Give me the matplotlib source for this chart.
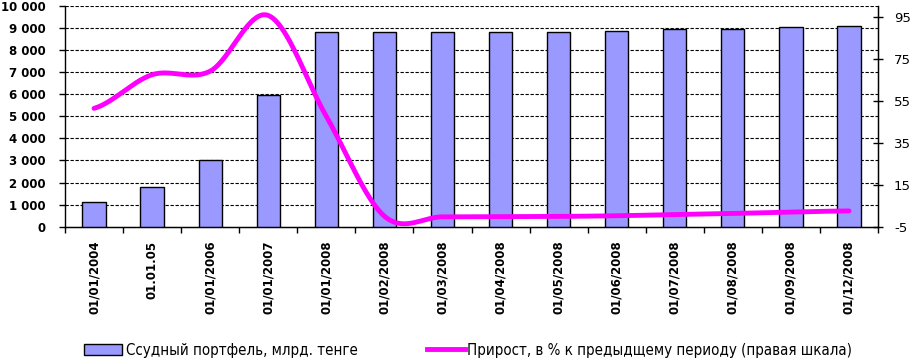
import numpy as np
import matplotlib
matplotlib.use("Agg")
import matplotlib.pyplot as plt
from matplotlib.patches import Patch
from matplotlib.lines import Line2D
from matplotlib import font_manager

plt.rcParams["axes.unicode_minus"] = False

# данные
dates = ["01/01/2004", "01.01.05", "01/01/2006", "01/01/2007", "01/01/2008",
         "01/02/2008", "01/03/2008", "01/04/2008", "01/05/2008", "01/06/2008",
         "01/07/2008", "01/08/2008", "01/09/2008", "01/12/2008"]
portfel = [1100, 1800, 3030, 5990, 8840, 8840, 8840, 8840, 8840, 8850,
           8940, 8940, 9040, 9080]
prirost = [51.3, 67.3, 69.0, 95.5, 47.5, 0.0, -0.3, -0.2, -0.1, 0.2,
           0.8, 1.3, 2.0, 2.5]

lbl_bar = "Ссудный портфель, млрд. тенге"
lbl_line = "Прирост, в % к предыдщему периоду (правая шкала)"


def sglazhivanie(y, n=40):
    # сглаживание как в Excel (Catmull-Rom)
    y = np.asarray(y, dtype=float)
    p = np.concatenate([[y[0]], y, [y[-1]]])
    xs, ys = [], []
    for i in range(len(y) - 1):
        p0, p1, p2, p3 = p[i], p[i + 1], p[i + 2], p[i + 3]
        t = np.linspace(0, 1, n, endpoint=(i == len(y) - 2))
        m1 = (p2 - p0) / 2
        m2 = (p3 - p1) / 2
        h00 = 2 * t**3 - 3 * t**2 + 1
        h10 = t**3 - 2 * t**2 + t
        h01 = -2 * t**3 + 3 * t**2
        h11 = t**3 - t**2
        ys.append(h00 * p1 + h10 * m1 + h01 * p2 + h11 * m2)
        xs.append(i + t)
    return np.concatenate(xs), np.concatenate(ys)


# узкий шрифт для легенды, если есть
names = {f.name for f in font_manager.fontManager.ttflist}
if "Liberation Sans Narrow" in names:
    leg_font = {"family": "Liberation Sans Narrow", "size": 10.5}
elif "DejaVu Sans Condensed" in names:
    leg_font = {"family": "DejaVu Sans Condensed", "size": 11.6}
else:
    leg_font = {"family": "DejaVu Sans", "stretch": "condensed", "size": 10.8}

fig = plt.figure(figsize=(9.15, 3.6), dpi=100)
ax = fig.add_axes([65 / 915, 1 - 226.7 / 360, (878 - 65) / 915, (226.7 - 6) / 360])
ax2 = ax.twinx()

x = np.arange(len(dates))
ax.bar(x, portfel, width=0.4, color="#9999FF", edgecolor="black", linewidth=1.0, zorder=3)
ax.set_xlim(-0.5, len(dates) - 0.5)
ax.set_ylim(0, 10000)
ax.set_yticks(np.arange(0, 10001, 1000))
ax.set_yticklabels([f"{v:,}".replace(",", " ") for v in range(0, 10001, 1000)],
                   fontsize=8.5, fontweight="bold")
for v in range(1000, 10001, 1000):
    ax.axhline(v, color="black", linestyle=(0, (3, 1.5)), linewidth=0.8, zorder=1)

ax.set_xticks(x)
ax.set_xticklabels(dates, rotation=90, fontsize=8.5, fontweight="bold")
ax.set_xticks(np.arange(-0.5, len(dates), 1), minor=True)
ax.tick_params(axis="x", which="major", length=0, pad=10)
ax.tick_params(axis="x", which="minor", length=4.5, width=1, direction="out")
ax.tick_params(axis="y", length=4, width=1, direction="out", pad=10)
ax.spines["top"].set_visible(False)
for s in ["left", "bottom"]:
    ax.spines[s].set_linewidth(1.0)

xs, ys = sglazhivanie(prirost)
ax2.plot(xs, ys, color="#FF00FF", linewidth=3.5, solid_capstyle="round", zorder=4)
ax2.set_ylim(-5, 100)
ax2.set_yticks([-5, 15, 35, 55, 75, 95])
ax2.tick_params(axis="y", length=7, width=1, direction="inout", pad=8, labelsize=9.5)
ax2.spines["top"].set_visible(False)
ax2.spines["right"].set_linewidth(1.0)
ax2.spines["left"].set_visible(False)

h1 = Patch(facecolor="#9999FF", edgecolor="black", linewidth=1.0, label=lbl_bar)
h2 = Line2D([], [], color="#FF00FF", linewidth=3.5, label=lbl_line)
fig.legend(handles=[h1], loc="center left", bbox_to_anchor=(84 / 915, 1 - 350 / 360),
           frameon=False, borderpad=0, borderaxespad=0, handlelength=2.5,
           handleheight=0.7, handletextpad=0.3, prop=leg_font)
fig.legend(handles=[h2], loc="center left", bbox_to_anchor=(427 / 915, 1 - 350 / 360),
           frameon=False, borderpad=0, borderaxespad=0, handlelength=2.5,
           handletextpad=0.15, prop=leg_font)

fig.savefig("out.png", dpi=100)
